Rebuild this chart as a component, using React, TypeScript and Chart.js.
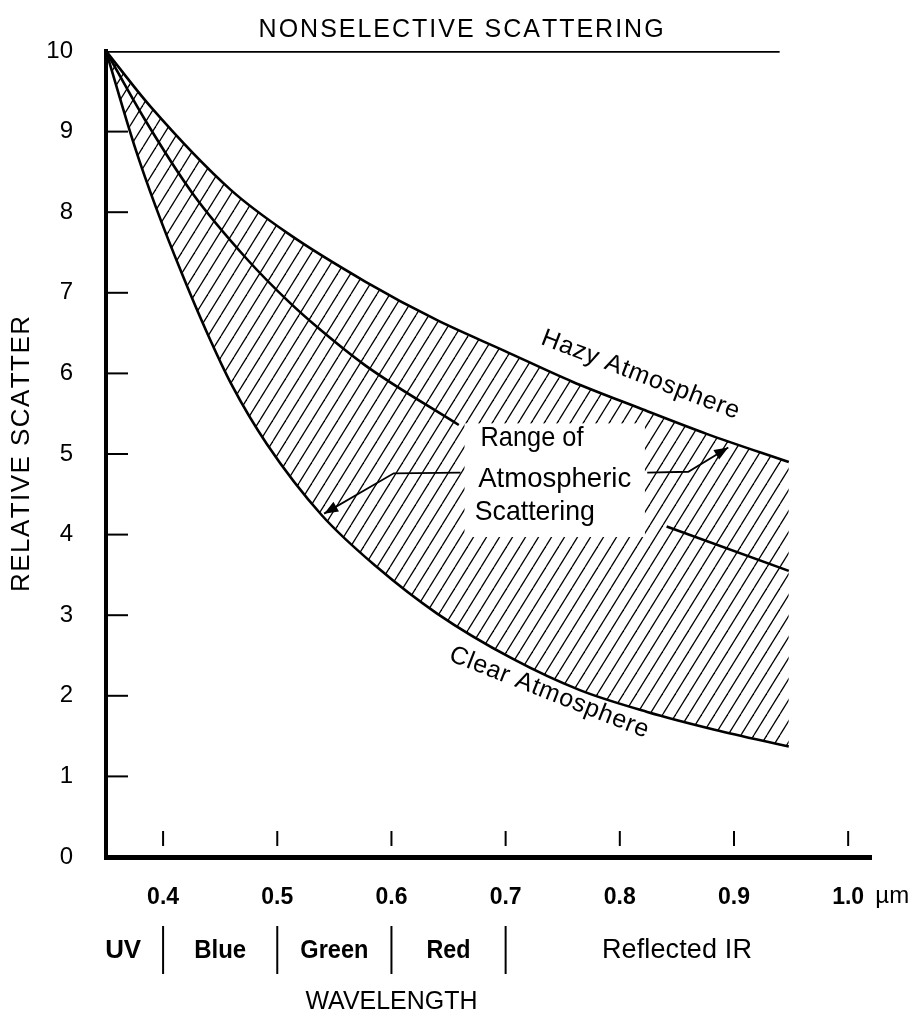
import React, { useEffect, useRef } from "react";
import { Chart, registerables } from "chart.js";

Chart.register(...registerables);

// ---------- data (wavelength in µm, relative scatter) ----------
const hazyX = [0.35, 0.389, 0.459, 0.509, 0.577, 0.64, 0.699, 0.758, 0.817, 0.876, 0.948];
const hazyY = [10, 9.31, 8.28, 7.74, 7.14, 6.66, 6.28, 5.9, 5.57, 5.25, 4.9];

const clearX = [0.35, 0.375, 0.394, 0.417, 0.438, 0.46, 0.491, 0.539, 0.587, 0.64, 0.706, 0.765, 0.824, 0.883, 0.948];
const clearY = [10, 8.82, 8.05, 7.22, 6.52, 5.86, 5.12, 4.24, 3.6, 3.02, 2.46, 2.07, 1.8, 1.58, 1.37];

const midX = [0.35, 0.384, 0.426, 0.474, 0.51, 0.537, 0.577, 0.659];
const midY = [10, 9.15, 8.23, 7.41, 6.89, 6.55, 6.1, 5.36];

const midTailX = [0.841, 0.948];
const midTailY = [4.1, 3.55];

const nonselX = [0.35, 0.94];
const nonselY = [10, 10];

const xTickValues = [0.4, 0.5, 0.6, 0.7, 0.8, 0.9, 1.0];
const yTickValues = [0, 1, 2, 3, 4, 5, 6, 7, 8, 9, 10];

const bandEdges = [0.4, 0.5, 0.6, 0.7];
const bandNames = ["UV", "Blue", "Green", "Red", "Reflected IR"];
const bandCenters = [0.365, 0.45, 0.55, 0.65, 0.85];

// ---------- text ----------
const TITLE = "NONSELECTIVE SCATTERING";
const Y_TITLE = "RELATIVE SCATTER";
const X_TITLE = "WAVELENGTH";
const X_UNIT = "\u00B5m";
const HAZY_LABEL = "Hazy Atmosphere";
const CLEAR_LABEL = "Clear Atmosphere";
const RANGE_LINES = ["Range of", "Atmospheric", "Scattering"];

// ---------- annotation anchors (data coordinates) ----------
const hazyLabelAt = { x: 0.818, y: 5.98 };
const clearLabelAt = { x: 0.738, y: 2.04 };
const rangeLineX = [0.678, 0.676, 0.673];
const rangeLineY = [5.1, 4.59, 4.18];
const clearBoxX = [0.664, 0.822];
const clearBoxY = [5.38, 3.97];
const arrowLeftX = [0.6605, 0.602, 0.541];
const arrowLeftY = [4.77, 4.76, 4.26];
const arrowRightX = [0.824, 0.86, 0.895];
const arrowRightY = [4.77, 4.78, 5.08];

const FONT = '"Liberation Sans", Arial, Helvetica, sans-serif';
const zip = (xs: number[], ys: number[]) => xs.map((x, i) => ({ x, y: ys[i] }));

function makeHatch(): CanvasPattern | string {
  const w = 13;
  const h = 21;
  const c = document.createElement("canvas");
  c.width = w;
  c.height = h;
  const g = c.getContext("2d");
  if (!g) return "#bbb";
  g.strokeStyle = "#000";
  g.lineWidth = 1.3;
  for (let k = -1; k <= 1; k++) {
    g.beginPath();
    g.moveTo(k * w, h);
    g.lineTo(k * w + w, 0);
    g.stroke();
  }
  return g.createPattern(c, "repeat") || "#bbb";
}

// draws text fitted to a given width (letter spacing if too narrow, horizontal scale if too wide)
function fitText(
  ctx: CanvasRenderingContext2D,
  text: string,
  x: number,
  y: number,
  font: string,
  width: number,
  align: "left" | "center" = "center",
  angle = 0,
  baseline: CanvasTextBaseline = "middle"
) {
  ctx.save();
  ctx.font = font;
  ctx.textAlign = "left";
  ctx.textBaseline = baseline;
  ctx.fillStyle = "#000";
  const natural = ctx.measureText(text).width;
  ctx.translate(x, y);
  if (angle) ctx.rotate(angle);
  const start = align === "center" ? -width / 2 : 0;
  if (natural < width && text.length > 1) {
    const chars = Array.from(text);
    const widths = chars.map((ch) => ctx.measureText(ch).width);
    const sum = widths.reduce((a, b) => a + b, 0);
    const sp = (width - sum) / (chars.length - 1);
    let cx = start;
    chars.forEach((ch, i) => {
      ctx.fillText(ch, cx, 0);
      cx += widths[i] + sp;
    });
  } else {
    const s = width / natural;
    ctx.scale(s, 1);
    ctx.fillText(text, start / s, 0);
  }
  ctx.restore();
}

const decorPlugin = {
  id: "decor",
  afterDatasetsDraw(chart: any) {
    const { ctx, scales } = chart;
    const xs = scales.x;
    const ys = scales.y;
    const x0 = xs.getPixelForValue(clearBoxX[0]);
    const x1 = xs.getPixelForValue(clearBoxX[1]);
    const y0 = ys.getPixelForValue(clearBoxY[0]);
    const y1 = ys.getPixelForValue(clearBoxY[1]);
    ctx.save();
    ctx.fillStyle = "#fff";
    ctx.fillRect(x0, y0, x1 - x0, y1 - y0);
    ctx.restore();
  },
  afterDraw(chart: any) {
    const { ctx, chartArea, scales } = chart;
    const xs = scales.x;
    const ys = scales.y;
    const px = (v: number) => xs.getPixelForValue(v);
    const py = (v: number) => ys.getPixelForValue(v);
    const line = (ax: number, ay: number, bx: number, by: number) => {
      ctx.beginPath();
      ctx.moveTo(ax, ay);
      ctx.lineTo(bx, by);
      ctx.stroke();
    };
    ctx.save();
    ctx.strokeStyle = "#000";
    ctx.fillStyle = "#000";
    ctx.lineWidth = 2;

    // inward y tick marks
    yTickValues.forEach((v) => {
      if (v <= 0 || v >= 10) return;
      const yy = py(v);
      line(chartArea.left, yy, chartArea.left + 22, yy);
    });
    // x tick marks (floating above the axis)
    xTickValues.forEach((v) => {
      const xx = px(v);
      line(xx, chartArea.bottom - 11, xx, chartArea.bottom - 26);
    });

    // band separators and names
    const bandY = chartArea.bottom + 94;
    bandEdges.forEach((v) => line(px(v), bandY - 25, px(v), bandY + 23));
    const bandWidths = [36, 52, 68, 44, 150];
    bandNames.forEach((name, i) => {
      const bold = i < 4;
      fitText(ctx, name, px(bandCenters[i]), bandY, `${bold ? "bold " : ""}${bold ? 26 : 27}px ${FONT}`, bandWidths[i]);
    });

    // unit after 1.0
    fitText(ctx, X_UNIT, px(1.0) + 44, chartArea.bottom + 39, `24px ${FONT}`, 34);

    // axis titles and title
    fitText(ctx, X_TITLE, px(0.6), chartArea.bottom + 145, `25px ${FONT}`, 172);
    fitText(ctx, Y_TITLE, chartArea.left - 84, (chartArea.top + chartArea.bottom) / 2, `26px ${FONT}`, 276, "center", -Math.PI / 2);
    fitText(ctx, TITLE, px(0.661), chartArea.top - 14, `25px ${FONT}`, 405, "center", 0, "alphabetic");

    // curve labels
    fitText(ctx, HAZY_LABEL, px(hazyLabelAt.x), py(hazyLabelAt.y), `25px ${FONT}`, 210, "center", (21 * Math.PI) / 180);
    fitText(ctx, CLEAR_LABEL, px(clearLabelAt.x), py(clearLabelAt.y), `25px ${FONT}`, 212, "center", (21.5 * Math.PI) / 180);

    // range label
    const rangeWidths = [103, 153, 120];
    RANGE_LINES.forEach((t, i) => {
      fitText(ctx, t, px(rangeLineX[i]), py(rangeLineY[i]), `28px ${FONT}`, rangeWidths[i], "left", 0, "alphabetic");
    });

    // arrows
    const drawArrow = (axs: number[], ays: number[]) => {
      const pts = axs.map((v, i) => [px(v), py(ays[i])]);
      ctx.lineWidth = 1.8;
      ctx.beginPath();
      ctx.moveTo(pts[0][0], pts[0][1]);
      for (let i = 1; i < pts.length; i++) ctx.lineTo(pts[i][0], pts[i][1]);
      ctx.stroke();
      const [tx, ty] = pts[pts.length - 1];
      const [sx, sy] = pts[pts.length - 2];
      const ang = Math.atan2(ty - sy, tx - sx);
      const L = 14;
      const W = 5.5;
      ctx.beginPath();
      ctx.moveTo(tx, ty);
      ctx.lineTo(tx - L * Math.cos(ang) + W * Math.sin(ang), ty - L * Math.sin(ang) - W * Math.cos(ang));
      ctx.lineTo(tx - L * Math.cos(ang) - W * Math.sin(ang), ty - L * Math.sin(ang) + W * Math.cos(ang));
      ctx.closePath();
      ctx.fill();
    };
    drawArrow(arrowLeftX, arrowLeftY);
    drawArrow(arrowRightX, arrowRightY);

    ctx.restore();
  },
};

export default function App() {
  const ref = useRef<HTMLCanvasElement>(null);

  useEffect(() => {
    const canvas = ref.current;
    if (!canvas) return;
    const hatch = makeHatch();
    const curve = {
      borderColor: "#000",
      pointRadius: 0,
      pointHoverRadius: 0,
      cubicInterpolationMode: "monotone" as const,
      fill: false as any,
    };
    const chart = new Chart(canvas, {
      type: "line",
      data: {
        datasets: [
          { ...curve, label: "Hazy Atmosphere", data: zip(hazyX, hazyY), borderWidth: 2.6, fill: "+1", backgroundColor: hatch as any },
          { ...curve, label: "Clear Atmosphere", data: zip(clearX, clearY), borderWidth: 2.6 },
          { ...curve, label: "Middle", data: zip(midX, midY), borderWidth: 2.6 },
          { ...curve, label: "Middle (right)", data: zip(midTailX, midTailY), borderWidth: 2.6 },
          { ...curve, label: "Nonselective Scattering", data: zip(nonselX, nonselY), borderWidth: 3.5 },
        ],
      },
      options: {
        responsive: false,
        animation: false,
        devicePixelRatio: 1,
        events: [],
        layout: { padding: { top: 51, right: 45, bottom: 0, left: 0 } },
        plugins: {
          legend: { display: false },
          tooltip: { enabled: false },
          title: { display: false },
        },
        scales: {
          x: {
            type: "linear",
            min: 0.35,
            max: 1.02,
            afterBuildTicks: (s: any) => {
              s.ticks = xTickValues.map((v) => ({ value: v }));
            },
            afterFit: (s: any) => {
              s.height = 164;
            },
            grid: { display: false },
            border: { display: true, color: "#000", width: 5 },
            ticks: {
              autoSkip: false,
              maxRotation: 0,
              padding: 19,
              color: "#000",
              font: { family: FONT, size: 23, weight: "bold" },
              callback: (v: any) => Number(v).toFixed(1),
            },
          },
          y: {
            type: "linear",
            min: 0,
            max: 10,
            afterBuildTicks: (s: any) => {
              s.ticks = yTickValues.map((v) => ({ value: v }));
            },
            afterFit: (s: any) => {
              s.width = 106;
            },
            grid: { display: false },
            border: { display: true, color: "#000", width: 4 },
            ticks: {
              autoSkip: false,
              padding: 25,
              color: "#000",
              font: { family: FONT, size: 24 },
              callback: (v: any) => String(v),
            },
          },
        },
      },
      plugins: [decorPlugin],
    });
    return () => chart.destroy();
  }, []);

  return (
    <div style={{ position: "absolute", left: 0, top: 0, width: 916, height: 1021, background: "#fff" }}>
      <canvas ref={ref} width={916} height={1021} style={{ display: "block", width: 916, height: 1021 }} />
    </div>
  );
}
